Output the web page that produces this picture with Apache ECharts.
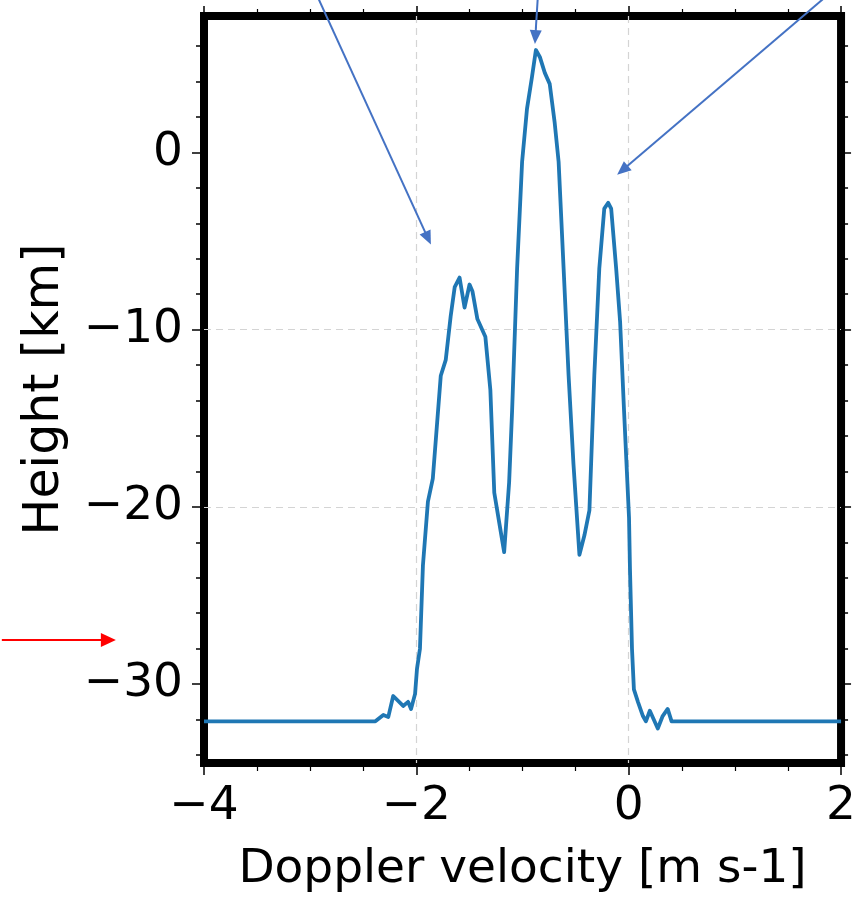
<!DOCTYPE html>
<html><head><meta charset="utf-8">
<script src="https://cdn.jsdelivr.net/npm/echarts@6/dist/echarts.min.js"></script>
<style>html,body{margin:0;padding:0;background:#fff}#c{width:859px;height:898px}</style>
</head><body><div id="c"></div>
<script>
// Doppler velocity [m s-1]
const velocity = [-4.0, -2.386, -2.311, -2.264, -2.218, -2.124, -2.078, -2.050, -2.012, -1.994, -1.966, -1.938, -1.891, -1.845, -1.770, -1.723, -1.677, -1.639, -1.593, -1.546, -1.499, -1.471, -1.425, -1.350, -1.303, -1.266, -1.219, -1.173, -1.126, -1.098, -1.051, -1.004, -0.958, -0.911, -0.874, -0.837, -0.790, -0.744, -0.697, -0.660, -0.613, -0.566, -0.520, -0.464, -0.417, -0.370, -0.324, -0.277, -0.230, -0.193, -0.165, -0.118, -0.081, -0.044, 0.003, 0.012, 0.031, 0.049, 0.087, 0.134, 0.162, 0.199, 0.236, 0.274, 0.320, 0.367, 0.404, 2.0];
// Height [km]
const height = [-32.1, -32.1, -31.74, -31.85, -30.67, -31.23, -31.0, -31.4, -30.55, -29.14, -28.0, -23.3, -19.7, -18.4, -12.6, -11.7, -9.26, -7.6, -7.06, -8.75, -7.45, -7.85, -9.4, -10.4, -13.4, -19.2, -20.9, -22.55, -18.6, -14.55, -6.55, -0.53, 2.46, 4.26, 5.78, 5.39, 4.49, 3.87, 1.67, -0.53, -6.55, -12.6, -17.6, -22.7, -21.6, -20.2, -12.6, -6.55, -3.17, -2.84, -3.17, -6.55, -9.54, -14.55, -20.6, -23.5, -28.0, -30.3, -31.0, -31.8, -32.1, -31.5, -32.0, -32.5, -31.8, -31.4, -32.1, -32.1];

const xRange = [-4, 2];
const xInterval = 2;
const yRange = [-34.45, 7.7];
const yMajorTicks = [-30, -20, -10, 0];
const yMinorTicks = [-34, -32, -28, -26, -24, -22, -18, -16, -14, -12, -8, -6, -4, -2, 2, 4, 6];

// annotation arrows (data coordinates: [velocity, height])
const arrowFrom = [[-2.939, 8.9], [-0.855, 8.9], [1.878, 8.9], [-5.904, -27.51]];
const arrowTo   = [[-1.863, -5.2], [-0.883, 6.12], [-0.109, -1.26], [-4.830, -27.51]];
const arrowColor = ['#4472C4', '#4472C4', '#4472C4', '#FF0000'];

const FONT = 'DejaVu Sans';
const FS = 47;
const fmt = v => String(v).replace('-', '\u2212');

const pts = velocity.map((v, i) => [v, height[i]]);

const chart = echarts.init(document.getElementById('c'), null, {renderer: 'canvas'});

function yAx(position, ticks, len, extra) {
  return Object.assign({
    type: 'value', position: position, min: yRange[0], max: yRange[1],
    axisLine: {show: false, onZero: false},
    axisTick: {show: true, inside: false, length: len, customValues: ticks, lineStyle: {color: '#000', width: 1.5}},
    axisLabel: {show: false, customValues: ticks},
    splitLine: {show: false},
    minorTick: {show: false}
  }, extra || {});
}

chart.setOption({
  animation: false,
  backgroundColor: '#fff',
  grid: {left: 204, right: 12, top: 16, bottom: 134, show: true, borderColor: '#000', borderWidth: 8, backgroundColor: 'transparent'},
  xAxis: [
    {
      type: 'value', position: 'bottom', min: xRange[0], max: xRange[1], interval: xInterval,
      name: 'Doppler velocity [m s-1]', nameLocation: 'middle', nameGap: 83,
      nameTextStyle: {fontFamily: FONT, fontSize: FS, color: '#000'},
      axisLine: {show: false, onZero: false},
      axisTick: {show: true, inside: false, length: 12, lineStyle: {color: '#000', width: 1.5}},
      minorTick: {show: true, splitNumber: 4, length: 8, lineStyle: {color: '#000', width: 1.2}},
      axisLabel: {show: true, margin: 20, fontFamily: FONT, fontSize: FS, color: '#000', formatter: fmt},
      splitLine: {show: true, showMinLine: false, showMaxLine: false, lineStyle: {color: '#d4d4d4', width: 1.2, type: [7, 5]}},
      minorSplitLine: {show: false}
    },
    {
      type: 'value', position: 'top', min: xRange[0], max: xRange[1], interval: xInterval,
      axisLine: {show: false, onZero: false},
      axisTick: {show: true, inside: false, length: 10, lineStyle: {color: '#000', width: 1.5}},
      minorTick: {show: true, splitNumber: 4, length: 7, lineStyle: {color: '#000', width: 1.2}},
      axisLabel: {show: false},
      splitLine: {show: false}
    }
  ],
  yAxis: [
    yAx('left', yMajorTicks, 12, {
      name: 'Height [km]', nameLocation: 'middle', nameGap: 134, nameRotate: 90,
      nameTextStyle: {fontFamily: FONT, fontSize: 49, color: '#000'},
      axisLabel: {show: true, customValues: yMajorTicks, margin: 21, fontFamily: FONT, fontSize: FS, color: '#000', formatter: fmt},
      splitLine: {show: true, showMinLine: false, showMaxLine: false, lineStyle: {color: '#d4d4d4', width: 1.2, type: [7, 5]}}
    }),
    yAx('left', yMinorTicks, 8),
    yAx('right', yMajorTicks, 10),
    yAx('right', yMinorTicks, 7)
  ],
  series: [{
    type: 'line', xAxisIndex: 0, yAxisIndex: 0, data: pts,
    showSymbol: false, symbol: 'none', clip: true,
    lineStyle: {color: '#1f77b4', width: 3.8, join: 'round'},
    z: 3
  }]
});

function arrowGraphics() {
  const out = [];
  for (let i = 0; i < arrowFrom.length; i++) {
    const a = chart.convertToPixel({gridIndex: 0}, arrowFrom[i]);
    const b = chart.convertToPixel({gridIndex: 0}, arrowTo[i]);
    const dx = b[0] - a[0], dy = b[1] - a[1];
    const d = Math.hypot(dx, dy);
    const ux = dx / d, uy = dy / d;
    const isRed = arrowColor[i] === '#FF0000';
    const L = isRed ? 15 : 14, W = isRed ? 14 : 12;
    const bx = b[0] - ux * L, by = b[1] - uy * L;
    const px = -uy, py = ux;
    out.push({type: 'line', silent: true, z: 100,
      shape: {x1: a[0], y1: a[1], x2: bx + ux * 1, y2: by + uy * 1},
      style: {stroke: arrowColor[i], lineWidth: isRed ? 1.8 : 2}});
    out.push({type: 'polygon', silent: true, z: 100,
      shape: {points: [[b[0], b[1]], [bx + px * W / 2, by + py * W / 2], [bx - px * W / 2, by - py * W / 2]]},
      style: {fill: arrowColor[i]}});
  }
  return out;
}
chart.setOption({graphic: arrowGraphics()});
</script>
</body></html>
